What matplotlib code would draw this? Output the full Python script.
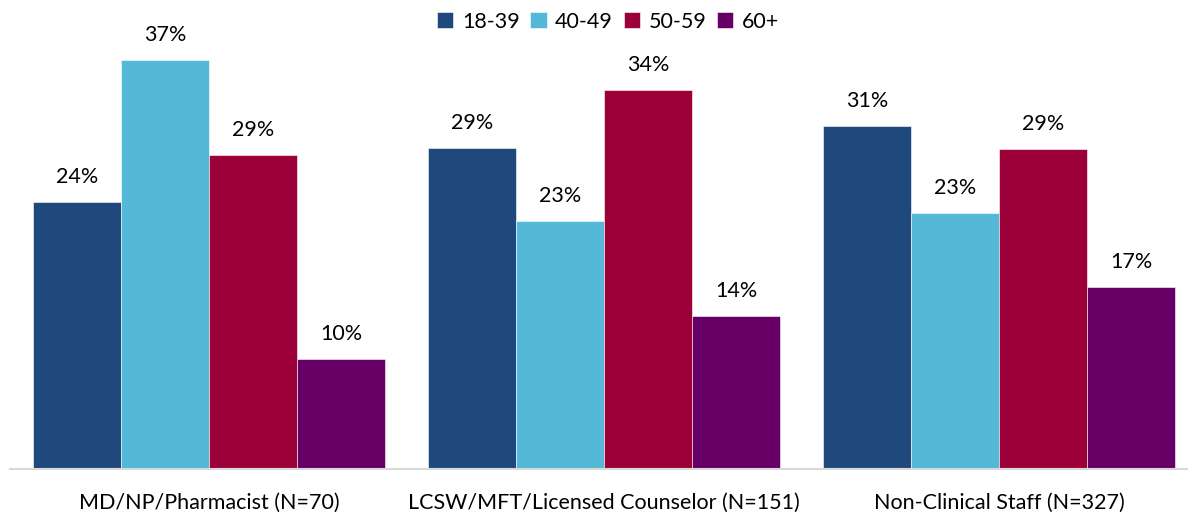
import matplotlib.pyplot as plt, numpy as np

groups = ['MD/NP/Pharmacist (N=70)', 'LCSW/MFT/Licensed Counselor (N=151)',
          'Non-Clinical Staff (N=327)']
ages = ['18-39', '40-49', '50-59', '60+']
pct_18_39 = [24.29, 29.14, 31.19]
pct_40_49 = [37.14, 22.52, 23.24]
pct_50_59 = [28.57, 34.44, 29.05]
pct_60 = [10.00, 13.91, 16.51]
colors = ['#1F497D', '#53B9D7', '#9C0038', '#660066']

plt.rcParams['font.family'] = ['Lato', 'DejaVu Sans']

fig = plt.figure(figsize=(11.88, 5.15), dpi=100)
ax = fig.add_axes([10/1188, 46/515, 1178/1188, 440/515])

x = np.arange(len(groups)); w = 88/395
for i, (vals, c, lab) in enumerate(zip([pct_18_39, pct_40_49, pct_50_59, pct_60], colors, ages)):
    pos = x + (i - 1.5) * w
    ax.bar(pos, vals, w, color=c, label=lab, edgecolor='white', linewidth=0.4)
    for p, v in zip(pos, vals):
        ax.annotate(f'{int(v + 0.5)}%', (p, v), xytext=(0, 15), textcoords='offset pixels',
                    ha='center', va='bottom', fontsize=15.5, color='#000000')

ax.set_xlim(-0.504, 2.478); ax.set_ylim(0, 40)
ax.set_xticks(x); ax.set_xticklabels(groups, fontsize=15.5)
ax.tick_params(axis='x', length=0, pad=17)
ax.set_yticks([])
for s in ['left', 'right', 'top']:
    ax.spines[s].set_visible(False)
ax.spines['bottom'].set_color('#D9D9D9'); ax.spines['bottom'].set_linewidth(1.5)

fig.legend(loc='upper center', bbox_to_anchor=(0.512, 1.015), ncol=4, frameon=False,
           fontsize=15.5, handlelength=0.75, handleheight=0.75, handletextpad=0.4,
           columnspacing=0.5)
fig.savefig('out.png', dpi=100)
